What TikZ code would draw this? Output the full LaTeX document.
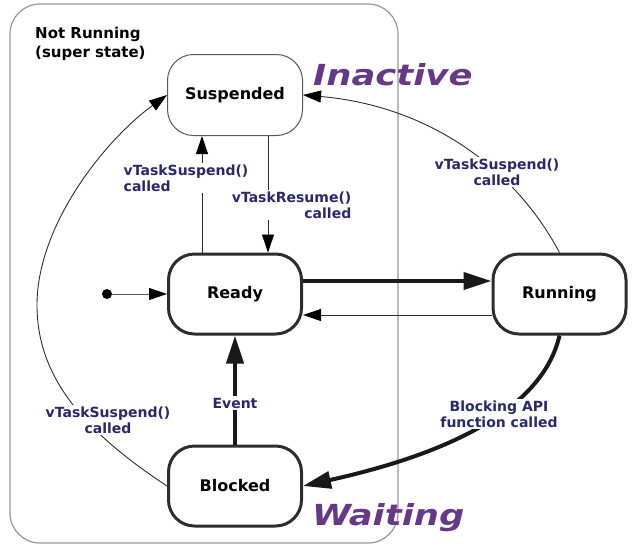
\documentclass[tikz,border=0pt]{standalone}
\usepackage{fontspec}
\setmainfont{DejaVu Sans}
\newfontfamily\bigfont{DejaVu Sans}[FakeStretch=1.22]
\usetikzlibrary{arrows.meta,calc}
\definecolor{lblcol}{RGB}{40,40,110}
\definecolor{purp}{RGB}{104,56,136}
\definecolor{edgecol}{RGB}{45,45,45}
\definecolor{supercol}{RGB}{150,150,150}
\begin{document}
\begin{tikzpicture}[x=1pt,y=-1pt,
  statebox/.style={draw=edgecol,line width=3pt,rounded corners=26pt,minimum width=133pt,minimum height=80pt,font=\fontsize{16}{19}\selectfont\bfseries,fill=white},
  thinbox/.style={draw=edgecol!80,line width=1pt,rounded corners=26pt,minimum width=135pt,minimum height=81pt,font=\fontsize{16}{19}\selectfont\bfseries,fill=white},
  thinarrow/.style={draw=edgecol,line width=0.9pt,-{Triangle[length=18pt,width=12pt,color=black]}},
  thickarrow/.style={draw=black!90,line width=4pt,-{Triangle[length=28pt,width=17pt]}},
  lbl/.style={font=\fontsize{14}{16}\selectfont\bfseries,text=lblcol,fill=white,inner sep=1.5pt,align=center},
  bigword/.style={font=\fontsize{29}{32}\bigfont\bfseries\itshape,text=purp,inner sep=0pt,anchor=base west}
]
\useasboundingbox (0,0) rectangle (639,550);
\node[draw=supercol,line width=1.2pt,rounded corners=30pt,minimum width=388pt,minimum height=539pt,inner sep=0pt] (super) at (204,273.5) {};
\node[anchor=north west,align=left,inner sep=0pt,font=\fontsize{15}{19}\selectfont\bfseries] (suptitle) at (35,27) {Not Running\\(super state)};

\node[thinbox] (susp) at (235,95) {Suspended};
\node[statebox] (ready) at (235,294) {Ready};
\node[statebox] (running) at (559.5,294) {Running};
\node[statebox] (blocked) at (235,486) {Blocked};
\node[circle,fill=black,inner sep=0pt,minimum size=10pt] (init) at (107,294) {};

\node[bigword] (inactive) at (313,85) {Inactive};
\node[bigword] (waiting) at (312,525) {Waiting};

\draw[thinarrow,draw=edgecol!80] (init) -- (ready.west);
\draw[thinarrow] ($(ready.north)+(-33,0)$) -- ($(susp.south)+(-33,0)$);
\draw[thinarrow] ($(susp.south)+(33,0)$) -- ($(ready.north)+(33,0)$);
\draw[thickarrow] ($(ready.east)+(0,-13)$) -- ($(running.west)+(0,-13)$);
\draw[thinarrow] ($(running.west)+(0,21)$) -- ($(ready.east)+(0,21)$);
\draw[thickarrow] (blocked) -- (ready);
\draw[thinarrow] (running.north) .. controls (510,160) and (420,105) .. (susp.east);
\draw[thickarrow] (running.south) .. controls (540,420) and (420,460) .. (blocked.east);
\draw[thinarrow] (blocked.west) .. controls (85,432) and (37,378) .. (37,305) .. controls (37,225) and (105,140) .. (susp.west);

\node[lbl,anchor=west,align=left] (l1) at (122,178) {vTaskSuspend()\\called};
\node[lbl,anchor=east,align=right] (l2) at (353,205) {vTaskResume()\\called};
\node[lbl] (l3) at (497,172) {vTaskSuspend()\\called};
\node[lbl] (l4) at (108,420) {vTaskSuspend()\\called};
\node[lbl] (l5) at (499,414) {Blocking API\\function called};
\node[lbl] (l6) at (235,403) {Event};
\end{tikzpicture}
\end{document}
